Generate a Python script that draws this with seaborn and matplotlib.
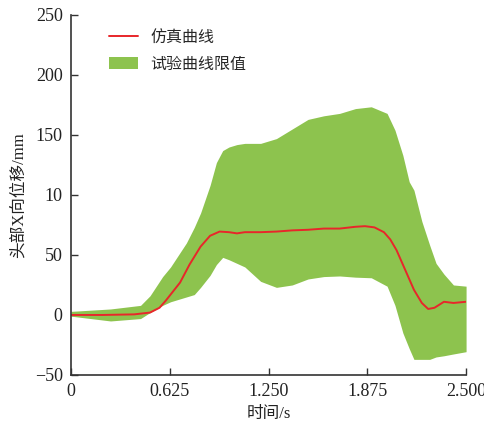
import numpy as np
import pandas as pd
import matplotlib
matplotlib.use('Agg')
import matplotlib.pyplot as plt
import seaborn as sns

# --- Data ---
band_t = [0, 0.25, 0.44, 0.5, 0.58, 0.63, 0.73, 0.78, 0.82, 0.88, 0.92, 0.96,
          1.0, 1.05, 1.1, 1.2, 1.3, 1.4, 1.5, 1.6, 1.7, 1.8, 1.9, 2.0, 2.05,
          2.1, 2.14, 2.17, 2.22, 2.27, 2.31, 2.36, 2.42, 2.5]
band_upper = [3, 5, 8, 16, 32, 40, 60, 73, 85, 108, 127, 137,
              140, 142, 143, 143, 147, 155, 163, 166, 168, 172, 173.5, 168, 154,
              133, 111, 104, 78, 58, 43, 34, 25, 24]
band_lower = [-1, -5, -3, 2, 8, 11, 15, 17, 23, 33, 42, 48,
              46, 43, 40, 28, 23, 25, 30, 32, 32.5, 31.5, 31, 24, 8,
              -15, -28, -37, -37, -37, -35, -34, -32.5, -30.6]

sim_t = [0, 0.2, 0.4, 0.5, 0.56, 0.6, 0.69, 0.75, 0.82, 0.88, 0.94, 1.0, 1.05,
         1.1, 1.2, 1.3, 1.4, 1.5, 1.6, 1.7, 1.8, 1.86, 1.92, 1.98, 2.02, 2.06,
         2.12, 2.17, 2.22, 2.26, 2.3, 2.36, 2.42, 2.5]
sim_x = [0, 0, 0.5, 2, 6, 12, 27, 42, 57, 66, 69.5, 69, 68,
         69, 69, 69.5, 70.5, 71, 72, 72, 73.5, 74, 73, 69, 63, 54,
         36, 21, 10, 5, 6, 11, 10, 11]

x_ticks = [0, 0.625, 1.25, 1.875, 2.5]
x_ticklabels = ['0', '0.625', '1.250', '1.875', '2.500']
y_ticks = [-50, 0, 50, 100, 150, 200, 250]
y_ticklabels = ['\u221250', '0', '50', '10', '150', '200', '250']

# --- Style ---
sns.set_style('ticks')
plt.rcParams['font.family'] = ['Liberation Serif', 'Noto Sans CJK SC']
plt.rcParams['axes.unicode_minus'] = False

fig = plt.figure(figsize=(4.85, 4.36), dpi=100)
ax = fig.add_axes([0.1464, 0.140, 0.8146, 0.8256])

ax.fill_between(band_t, band_lower, band_upper, color='#8DC34E',
                linewidth=0, label='试验曲线限值')
sim_df = pd.DataFrame({'t': sim_t, 'x': sim_x})
sns.lineplot(data=sim_df, x='t', y='x', ax=ax, color='#E8262A',
             linewidth=1.4, label='仿真曲线')

ax.set_xlim(0, 2.5)
ax.set_ylim(-50, 250)
ax.set_xticks(x_ticks)
ax.set_xticklabels(x_ticklabels)
ax.set_yticks(y_ticks)
ax.set_yticklabels(y_ticklabels)
ax.tick_params(direction='in', length=5, width=1, colors='#333333',
               labelsize=13, labelcolor='#222222', pad=6)
for side in ['top', 'right']:
    ax.spines[side].set_visible(False)
for side in ['left', 'bottom']:
    ax.spines[side].set_color('#333333')
    ax.spines[side].set_linewidth(1.2)

ax.set_xlabel('时间/s', fontsize=12, color='#222222', labelpad=4)
ax.set_ylabel('头部X向位移/mm', fontsize=12, color='#222222', labelpad=6)

handles, labels = ax.get_legend_handles_labels()
order = [labels.index('仿真曲线'), labels.index('试验曲线限值')]
ax.legend([handles[i] for i in order], [labels[i] for i in order],
          loc='upper left', bbox_to_anchor=(0.06, 1.0), frameon=False,
          fontsize=11.5, handlelength=1.8, labelspacing=0.7)

plt.savefig('out.png', dpi=100)
